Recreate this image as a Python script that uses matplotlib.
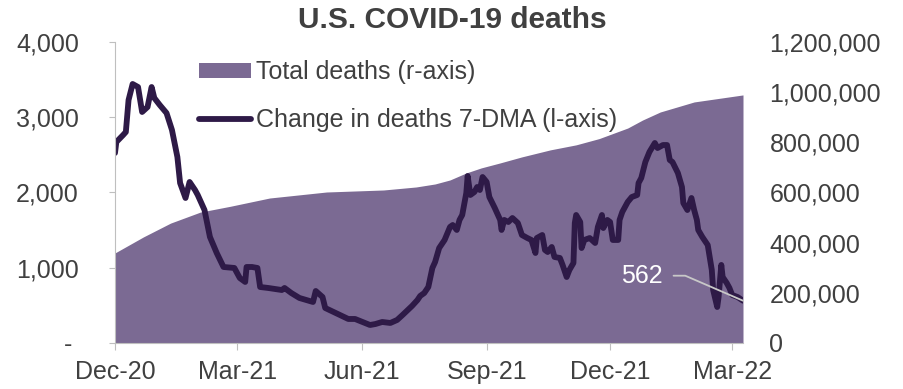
import matplotlib
matplotlib.use("Agg")
import matplotlib.pyplot as plt
import matplotlib.dates as mdates
from matplotlib.patches import Patch
from matplotlib.lines import Line2D
import pandas as pd

plt.rcParams['font.family'] = ['Liberation Sans', 'DejaVu Sans']

start = pd.Timestamp("2020-12-01")

# change in deaths, 7-day moving average (days since 1 Dec 2020)
dma_days = [0, 1, 6, 8, 10, 13, 17, 20, 24, 27, 29, 33, 38, 42, 46, 48, 52, 55, 59, 61,
            66, 70, 75, 80, 88, 92, 96, 97, 101, 105, 107, 113, 123, 125, 130, 136, 146,
            148, 153, 155, 158, 172, 177, 188, 192, 197, 203, 208, 212, 219, 223, 225,
            228, 231, 234, 236, 239, 243, 247, 249, 252, 254, 256, 259, 260, 262, 265,
            267, 269, 271, 274, 276, 280, 284, 285, 287, 290, 293, 297, 300, 304, 307,
            310, 311, 315, 317, 319, 322, 324, 328, 330, 333, 335, 338, 339, 340, 343,
            344, 346, 350, 354, 356, 359, 360, 363, 365, 367, 371, 372, 374, 378, 381,
            385, 386, 388, 391, 394, 398, 400, 404, 407, 409, 411, 415, 418, 419, 422,
            425, 427, 429, 430, 433, 437, 440, 441, 444, 445, 447, 448, 451, 453, 455,
            459, 463]
dma = [2525, 2671, 2764, 2804, 3229, 3442, 3402, 3070, 3136, 3402, 3256, 3163, 3056, 2831,
       2472, 2126, 1927, 2140, 2033, 1967, 1767, 1409, 1196, 1010, 997, 864, 811, 1010,
       1010, 997, 744, 731, 704, 731, 664, 598, 545, 691, 611, 465, 439, 319, 319, 239,
       252, 279, 266, 306, 372, 492, 571, 625, 664, 744, 997, 1076, 1262, 1369, 1542,
       1568, 1502, 1635, 1701, 1993, 2219, 1967, 2007, 2073, 2033, 2206, 2140, 1940,
       1794, 1635, 1502, 1635, 1608, 1661, 1595, 1435, 1395, 1369, 1196, 1395, 1435,
       1236, 1209, 1276, 1143, 1130, 1037, 877, 970, 1063, 1595, 1701, 1608, 1262, 1369,
       1395, 1329, 1542, 1701, 1528, 1635, 1608, 1369, 1369, 1635, 1741, 1874, 1940,
       1967, 2126, 2193, 2405, 2538, 2658, 2591, 2631, 2631, 2432, 2405, 2259, 2073,
       1860, 1767, 1927, 1767, 1635, 1502, 1409, 1302, 970, 704, 478, 611, 1037, 877,
       797, 731, 638, 611, 562]

# cumulative deaths
total_days = [0, 21, 41, 63, 85, 114, 156, 198, 222, 236, 247, 259, 270, 284, 300, 321,
              340, 357, 378, 389, 402, 427, 463]
total = [359000, 423000, 478000, 522000, 545000, 578000, 602000, 610000, 622000, 634000,
         650000, 678000, 698000, 718000, 742000, 770000, 790000, 815000, 857000, 889000,
         921000, 961000, 989000]

tick_dates = ["2020-12-01", "2021-03-01", "2021-06-01", "2021-09-01", "2021-12-01",
              "2022-03-01"]

area_col = "#7b6a93"
line_col = "#2e1a47"
txt_col = "#404040"
grid_col = "#bfbfbf"

dma_x = [start + pd.Timedelta(days=d) for d in dma_days]
total_x = [start + pd.Timedelta(days=d) for d in total_days]

fig, ax = plt.subplots(figsize=(9.04, 3.89), dpi=100)
fig.subplots_adjust(left=0.1272, right=0.8219, bottom=0.1183, top=0.892)
ax2 = ax.twinx()

ax2.fill_between(total_x, total, 0, color=area_col, lw=0)
ax2.set_ylim(0, 1200000)
ax2.set_yticks(range(0, 1200001, 200000))
ax2.set_yticklabels([f"{v:,}" for v in range(0, 1200001, 200000)])

ax.plot(dma_x, dma, color=line_col, lw=4.2, solid_capstyle="round", solid_joinstyle="round")
ax.set_ylim(0, 4000)
ax.set_yticks([0, 1000, 2000, 3000, 4000])
ax.set_yticklabels(["- ", "1,000", "2,000", "3,000", "4,000"])

# line on top of the area
ax.set_zorder(ax2.get_zorder() + 1)
ax.patch.set_visible(False)

ax.set_xlim(start, start + pd.Timedelta(days=463))
ax.set_xticks(pd.to_datetime(tick_dates))
ax.xaxis.set_major_formatter(mdates.DateFormatter("%b-%y"))

for a in (ax, ax2):
    for s in a.spines.values():
        s.set_visible(False)
ax.spines["left"].set_visible(True)
ax.spines["bottom"].set_visible(True)
ax.spines["left"].set_color(grid_col)
ax.spines["bottom"].set_color(grid_col)

ax.tick_params(axis="y", length=4, color=grid_col, labelcolor=txt_col, labelsize=18, pad=22)
ax.tick_params(axis="x", length=5, color=grid_col, labelcolor=txt_col, labelsize=18, pad=7.5)
ax2.tick_params(axis="y", length=0, labelcolor=txt_col, labelsize=18, pad=19)

# callout for the latest value
last_x = dma_x[-1]
last_y = dma[-1]
ax.annotate(f"{last_y:,}", xy=(last_x, last_y), xycoords="data",
            xytext=(-58, 18), textcoords="offset points", color="white",
            fontsize=18, va="center", ha="right",
            arrowprops=dict(arrowstyle="-", color="#c8c8c8", lw=1.3,
                            connectionstyle="angle,angleA=0,angleB=-23.4,rad=0",
                            shrinkA=6, shrinkB=0))

handles = [Patch(facecolor=area_col, edgecolor="none"),
           Line2D([0], [0], color=line_col, lw=4.2, solid_capstyle="round")]
labels = ["Total deaths (r-axis)", "Change in deaths 7-DMA (l-axis)"]
leg = ax.legend(handles, labels, loc="upper left", bbox_to_anchor=(199 / 904, 1 - 60 / 389),
                bbox_transform=fig.transFigure, frameon=False, fontsize=18,
                handlelength=2.1, handleheight=0.55, handletextpad=0.2,
                labelspacing=0.95, borderpad=0, borderaxespad=0)
for t in leg.get_texts():
    t.set_color(txt_col)

fig.text(0.5, 1 - 20 / 389, "U.S. COVID-19 deaths", ha="center", va="center",
         fontsize=21.5, fontweight="bold", color=txt_col)

fig.savefig("out.png", dpi=100)
